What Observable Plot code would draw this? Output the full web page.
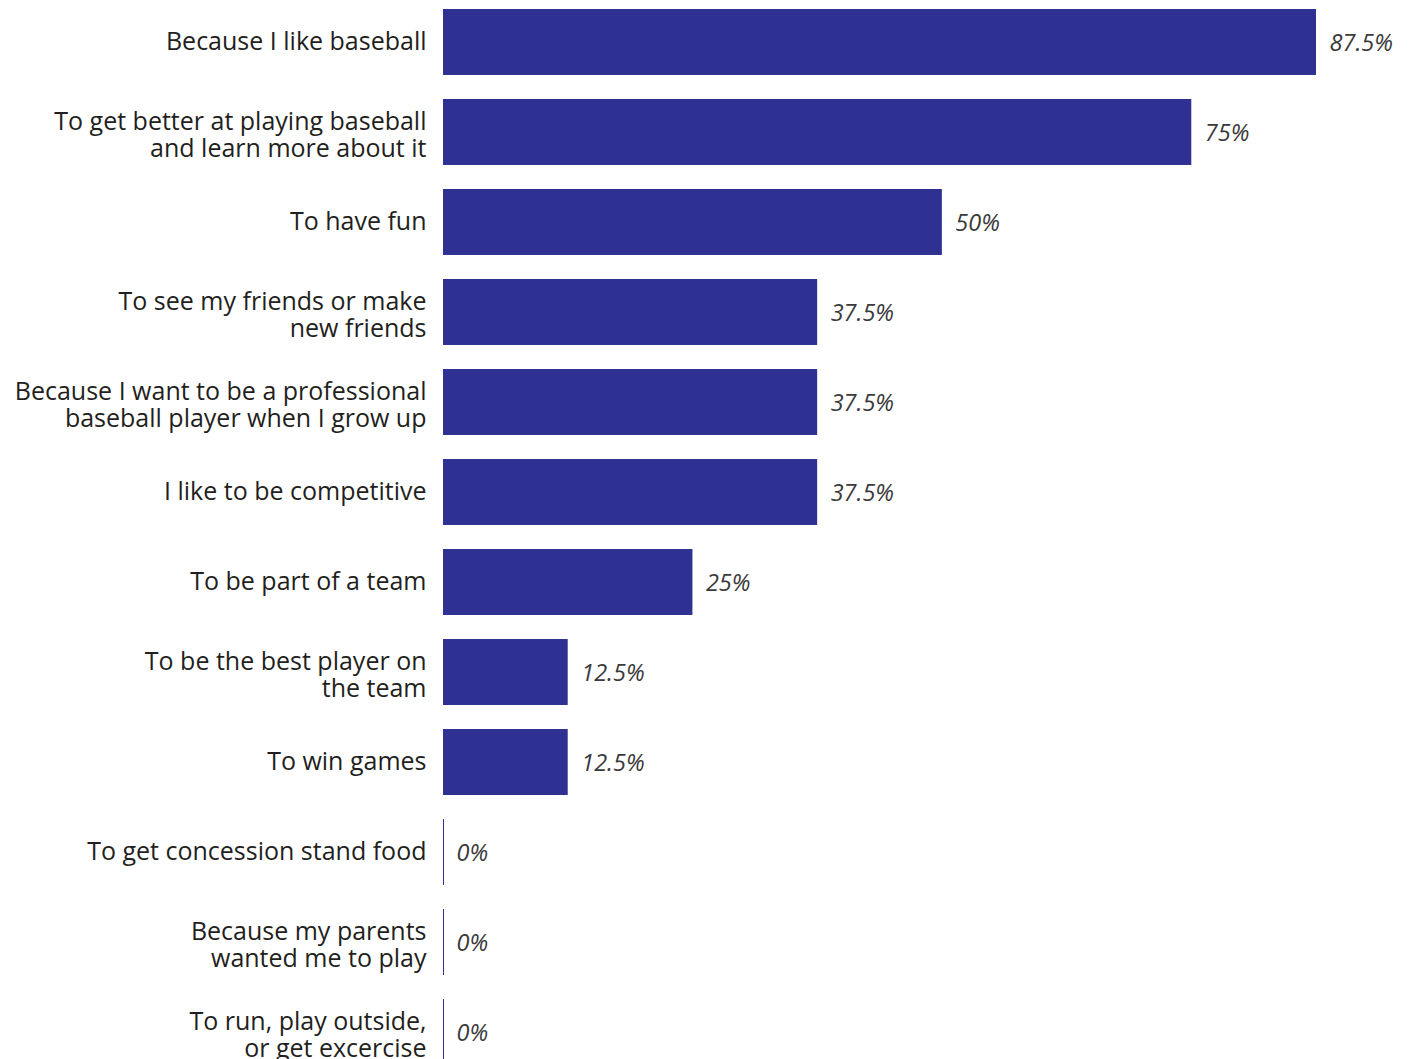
<!DOCTYPE html>
<html>
<head>
<meta charset="utf-8">
<script src="https://cdn.jsdelivr.net/npm/d3@7"></script>
<script src="https://cdn.jsdelivr.net/npm/@observablehq/plot@0.6"></script>
<style>
  html, body { margin: 0; padding: 0; background: #fff; }
  #chart svg { display: block; }
</style>
</head>
<body>
<div id="chart"></div>
<script>
const reasons = [
  "Because I like baseball",
  "To get better at playing baseball\nand learn more about it",
  "To have fun",
  "To see my friends or make\nnew friends",
  "Because I want to be a professional\nbaseball player when I grow up",
  "I like to be competitive",
  "To be part of a team",
  "To be the best player on\nthe team",
  "To win games",
  "To get concession stand food",
  "Because my parents\nwanted me to play",
  "To run, play outside,\nor get excercise"
];
const percents = [87.5, 75, 50, 37.5, 37.5, 37.5, 25, 12.5, 12.5, 0, 0, 0];

const data = reasons.map((r, i) => ({reason: r, value: percents[i]}));
const single = data.filter(d => !d.reason.includes("\n"));
const multi = data.filter(d => d.reason.includes("\n"));
const barColor = "#2e3192";
const fontFamily = "'Open Sans', sans-serif";
const labelStyle = {x: 0, y: "reason", text: "reason", textAnchor: "end", dx: -17, fontSize: 25, fill: "#231f20", lineHeight: 1.08};

const chart = Plot.plot({
  width: 1410,
  height: 1059,
  marginLeft: 443,
  marginRight: 94,
  marginTop: 0,
  marginBottom: 0,
  style: {fontFamily, background: "#fff"},
  x: {domain: [0, 87.5], axis: null},
  y: {domain: reasons, range: [0, 1074], paddingInner: 0.267, paddingOuter: 0.1, round: false, axis: null},
  marks: [
    Plot.barX(data, {x: "value", y: "reason", fill: barColor}),
    Plot.tickX(data.filter(d => d.value === 0), {x: 0, y: "reason", stroke: barColor, strokeWidth: 1}),
    Plot.text(single, {...labelStyle, dy: -1}),
    Plot.text(multi, {...labelStyle, dy: 2}),
    Plot.text(data, {
      x: "value", y: "reason", text: d => d.value + "%", textAnchor: "start", dx: 13, dy: 1,
      fontSize: 23.5, fontStyle: "italic", fill: "#3a3a3a"
    })
  ]
});
document.getElementById("chart").appendChild(chart);
</script>
</body>
</html>
